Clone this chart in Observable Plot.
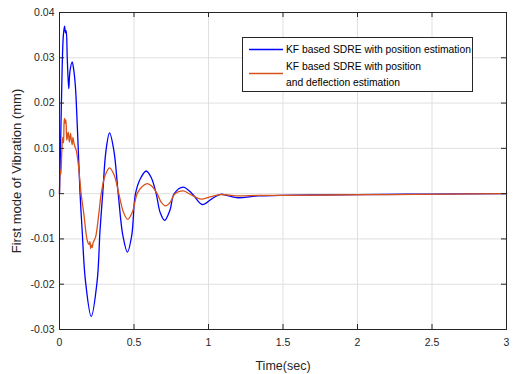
<!DOCTYPE html>
<html><head><meta charset="utf-8">
<script src="https://cdn.jsdelivr.net/npm/d3@7"></script>
<script src="https://cdn.jsdelivr.net/npm/@observablehq/plot@0.6"></script>
<style>
body{margin:0;background:#fff;}
#wrap{position:relative;width:513px;height:374px;font-family:"Liberation Sans",Arial,sans-serif;}
#legend{position:absolute;left:242px;top:37px;width:231px;height:55px;box-sizing:border-box;border:1px solid #262626;background:#fff;}
#legend svg{position:absolute;left:0;top:0;}
</style></head><body><div id="wrap"></div>
<script>
const seriesNames = ["KF based SDRE with position estimation", "KF based SDRE with position\nand deflection estimation"];
const seriesColors = ["#0000ff", "#d95319"];
const xTicks = [0, 0.5, 1, 1.5, 2, 2.5, 3];
const yTicks = [-0.03, -0.02, -0.01, 0, 0.01, 0.02, 0.03, 0.04];

const blueTime = [
  0, 0.008, 0.018, 0.026, 0.034, 0.040, 0.045, 0.052, 0.062, 0.070,
  0.085, 0.096, 0.106, 0.112, 0.125, 0.138, 0.152, 0.174, 0.213, 0.253,
  0.272, 0.290, 0.312, 0.336, 0.365, 0.394, 0.425, 0.456, 0.485, 0.510,
  0.546, 0.582, 0.616, 0.649, 0.676, 0.706, 0.740, 0.770, 0.830, 0.890,
  0.957, 1.020, 1.080, 1.190, 1.330, 1.480, 1.700, 2.000, 2.500, 3.000];
const blueVal = [
  0, 0.012, 0.028, 0.035, 0.037, 0.0355, 0.036, 0.030, 0.0232, 0.027,
  0.0291, 0.0272, 0.024, 0.0206, 0.0105, 0, -0.0081, -0.0192, -0.0271, -0.0192,
  -0.0081, 0, 0.0095, 0.0134, 0.0095, 0, -0.0092, -0.0129, -0.0092, 0,
  0.0035, 0.0050, 0.0035, 0, -0.0042, -0.0059, -0.0038, 0, 0.00146, 0,
  -0.0024, -0.0012, -0.00015, -0.0009, -0.0005, -0.0004, -0.0003, -0.0002, -0.0001, 0];

const orangeTime = [
  0, 0.004, 0.009, 0.015, 0.022, 0.027, 0.031, 0.034, 0.038, 0.042,
  0.045, 0.049, 0.053, 0.058, 0.062, 0.066, 0.070, 0.074, 0.079, 0.085,
  0.090, 0.096, 0.103, 0.112, 0.1255, 0.135, 0.145, 0.163, 0.186, 0.198,
  0.204, 0.209, 0.214, 0.219, 0.226, 0.242, 0.264, 0.280, 0.306, 0.336,
  0.368, 0.398, 0.428, 0.458, 0.490, 0.521, 0.555, 0.589, 0.622, 0.655,
  0.683, 0.711, 0.745, 0.775, 0.830, 0.885, 0.950, 1.010, 1.080, 1.190,
  1.330, 1.500, 1.800, 2.200, 2.600, 3.000];
const orangeVal = [
  0, 0.005, 0.0042, 0.009, 0.0125, 0.0112, 0.0158, 0.0166, 0.0155, 0.0163,
  0.0150, 0.0118, 0.0126, 0.0136, 0.0127, 0.0114, 0.0123, 0.0133, 0.0119, 0.0108,
  0.0124, 0.0113, 0.0104, 0.0096, 0.0067, 0.0035, 0, -0.0044, -0.0103, -0.0112,
  -0.0106, -0.0121, -0.0113, -0.0119, -0.0108, -0.0096, -0.0044, 0, 0.0040, 0.0057,
  0.0040, 0, -0.0040, -0.0057, -0.0040, 0, 0.0016, 0.0022, 0.0016, 0,
  -0.0019, -0.0027, -0.0018, 0, 0.0006, -0.0003, -0.0012, -0.0007, -0.0002, -0.0005,
  -0.0004, -0.0004, -0.0003, -0.0002, -0.0001, 0];

const blue = blueTime.map((t, i) => ({t, v: blueVal[i]}));
const orange = orangeTime.map((t, i) => ({t, v: orangeVal[i]}));

const W = 513, H = 374, mL = 59, mR = 7, mT = 12, mB = 45;
const innerW = W - mL - mR, innerH = H - mT - mB;
const axisColor = "#262626";
const fmt = d => String(d);

const chart = Plot.plot({
  width: W, height: H,
  marginLeft: mL, marginRight: mR, marginTop: mT, marginBottom: mB,
  style: {fontFamily: "Liberation Sans, Arial, sans-serif", background: "white", color: axisColor, overflow: "visible"},
  x: {domain: [0, 3]},
  y: {domain: [-0.03, 0.04]},
  marks: [
    Plot.gridX(xTicks, {stroke: "#dfdfdf", strokeOpacity: 1}),
    Plot.gridY(yTicks, {stroke: "#dfdfdf", strokeOpacity: 1}),
    Plot.line(blue, {x: "t", y: "v", stroke: seriesColors[0], strokeWidth: 1.3, curve: "catmull-rom"}),
    Plot.line(orange, {x: "t", y: "v", stroke: seriesColors[1], strokeWidth: 1.3, curve: "catmull-rom"}),
    Plot.frame({stroke: axisColor, strokeWidth: 1}),
    Plot.tickX(xTicks, {x: d => d, insetTop: innerH - 5, stroke: axisColor}),
    Plot.tickX(xTicks, {x: d => d, insetBottom: innerH - 5, stroke: axisColor}),
    Plot.tickY(yTicks, {y: d => d, insetRight: innerW - 5, stroke: axisColor}),
    Plot.tickY(yTicks, {y: d => d, insetLeft: innerW - 5, stroke: axisColor}),
    Plot.axisX(xTicks, {tickSize: 0, tickPadding: 9, tickFormat: fmt, fontSize: 10.5,
      label: "Time(sec)", labelAnchor: "center", labelArrow: "none", labelOffset: 40}),
    Plot.axisY(yTicks, {tickSize: 0, tickPadding: 5, tickFormat: fmt, fontSize: 10.5,
      label: "First mode of Vibration (mm)", labelAnchor: "center", labelArrow: "none", labelOffset: 48})
  ]
});
chart.querySelectorAll("[aria-label='x-axis label'] text").forEach(g => g.setAttribute("font-size", "12.5"));
chart.querySelectorAll("[aria-label='y-axis label'] text").forEach(g => g.setAttribute("font-size", "13"));
const wrap = document.getElementById("wrap");
wrap.appendChild(chart);

// legend overlay
const lg = document.createElement("div");
lg.id = "legend";
const ns = "http://www.w3.org/2000/svg";
const svg = document.createElementNS(ns, "svg");
svg.setAttribute("width", 231); svg.setAttribute("height", 55);
function line(y, c) {
  const l = document.createElementNS(ns, "line");
  l.setAttribute("x1", 6); l.setAttribute("x2", 40); l.setAttribute("y1", y); l.setAttribute("y2", y);
  l.setAttribute("stroke", c); l.setAttribute("stroke-width", 1.3);
  svg.appendChild(l);
}
function text(y, s) {
  const t = document.createElementNS(ns, "text");
  t.setAttribute("x", 43); t.setAttribute("y", y);
  t.setAttribute("font-size", 10.3); t.setAttribute("fill", "#000");
  t.setAttribute("font-family", "Liberation Sans, Arial, sans-serif");
  t.setAttribute("dominant-baseline", "central");
  t.textContent = s;
  svg.appendChild(t);
}
line(11.5, seriesColors[0]);
text(11.5, seriesNames[0]);
line(35.5, seriesColors[1]);
const parts = seriesNames[1].split("\n");
text(28, parts[0]);
text(44, parts[1]);
lg.appendChild(svg);
wrap.appendChild(lg);
</script>
</body></html>
